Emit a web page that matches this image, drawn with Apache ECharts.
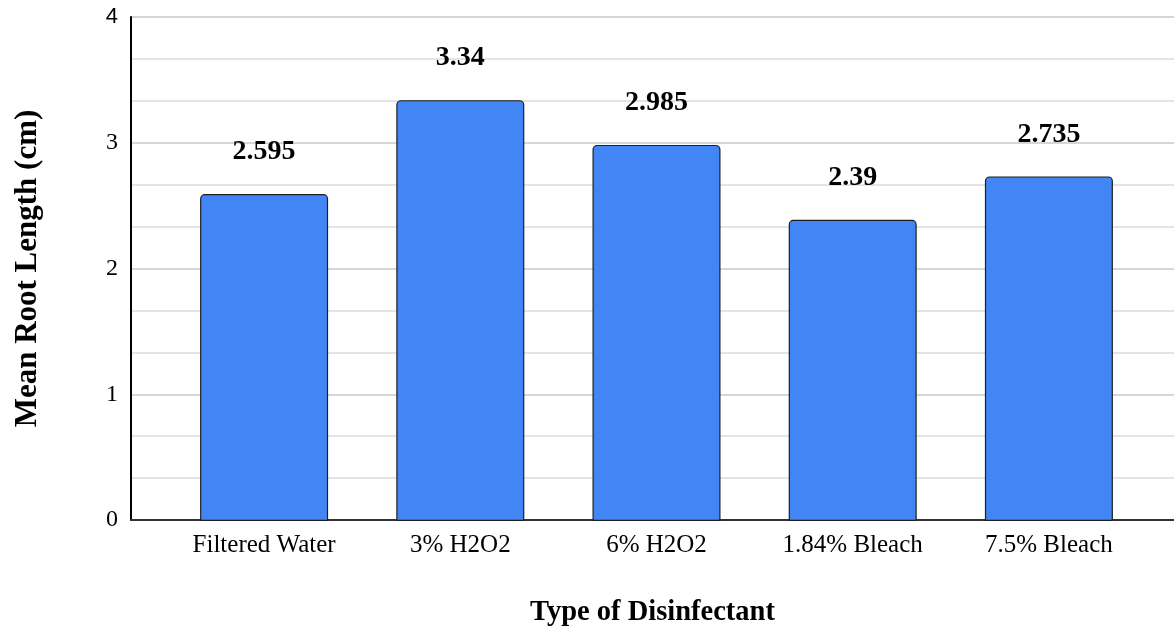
<!DOCTYPE html>
<html>
<head>
<meta charset="utf-8">
<script src="https://cdn.jsdelivr.net/npm/echarts@6/dist/echarts.min.js"></script>
<style>
  html, body { margin: 0; padding: 0; background: #fff; }
  #chart { width: 1174px; height: 632px; }
</style>
</head>
<body>
<div id="chart"></div>
<script>
// Mean root length per disinfectant treatment
const categories = ['Filtered Water', '3% H2O2', '6% H2O2', '1.84% Bleach', '7.5% Bleach'];
const meanRootLength = [2.595, 3.34, 2.985, 2.39, 2.735];
const yTicks = [0, 1, 2, 3, 4];

const serif = '"Liberation Serif", "Times New Roman", serif';
const sans = '"Liberation Sans", Arial, sans-serif';
const yMin = yTicks[0];
const yMax = yTicks[yTicks.length - 1];

const chart = echarts.init(document.getElementById('chart'), null, { renderer: 'canvas' });

chart.setOption({
  animation: false,
  backgroundColor: '#ffffff',
  grid: [
    // frame: axis lines, gridlines and titles
    { left: 131, right: -6, top: 17, bottom: 111 },
    // bars sit in a narrower band inside the frame
    { left: 166, right: 27, top: 17, bottom: 111 }
  ],
  xAxis: [
    {
      gridIndex: 0,
      type: 'value',
      min: 0,
      max: 1,
      name: 'Type of Disinfectant',
      nameLocation: 'middle',
      nameGap: 78,
      nameTextStyle: { fontFamily: serif, fontWeight: 'bold', fontSize: 28.5, color: '#000' },
      axisLine: { show: true, onZero: false, lineStyle: { color: '#333', width: 2 } },
      axisTick: { show: false },
      axisLabel: { show: false },
      splitLine: { show: false }
    },
    {
      gridIndex: 1,
      type: 'category',
      data: categories,
      axisLine: { show: false },
      axisTick: { show: false },
      axisLabel: { fontFamily: serif, fontSize: 25, color: '#000', margin: 12 },
      splitLine: { show: false }
    }
  ],
  yAxis: [
    {
      gridIndex: 0,
      type: 'value',
      min: yMin,
      max: yMax,
      interval: 1,
      name: 'Mean Root Length (cm)',
      nameLocation: 'middle',
      nameGap: 88,
      nameTextStyle: { fontFamily: serif, fontWeight: 'bold', fontSize: 31, color: '#000' },
      axisLine: { show: true, lineStyle: { color: '#000', width: 2 } },
      axisTick: { show: false },
      axisLabel: {
        fontFamily: serif,
        fontSize: 24,
        color: '#000',
        margin: 13,
        // the top tick is set in a sans face
        formatter: v => (v === yMax ? '{top|' + v + '}' : String(v)),
        rich: { top: { fontFamily: sans, fontSize: 22, color: '#000' } }
      },
      splitLine: { show: true, lineStyle: { color: '#d6d6d6', width: 2 } },
      minorTick: { show: false, splitNumber: 3 },
      minorSplitLine: { show: true, lineStyle: { color: '#e4e4e4', width: 2 } }
    },
    {
      gridIndex: 1,
      type: 'value',
      min: yMin,
      max: yMax,
      show: false
    }
  ],
  series: [
    {
      type: 'bar',
      xAxisIndex: 1,
      yAxisIndex: 1,
      data: meanRootLength,
      barWidth: 128,
      itemStyle: {
        color: '#4285f4',
        borderColor: '#1f1f1f',
        borderWidth: 1.2,
        borderRadius: [4, 4, 0, 0]
      },
      label: {
        show: true,
        position: 'top',
        distance: 28,
        fontFamily: serif,
        fontWeight: 'bold',
        fontSize: 28,
        color: '#000',
        formatter: p => String(p.value)
      }
    }
  ]
});
</script>
</body>
</html>
